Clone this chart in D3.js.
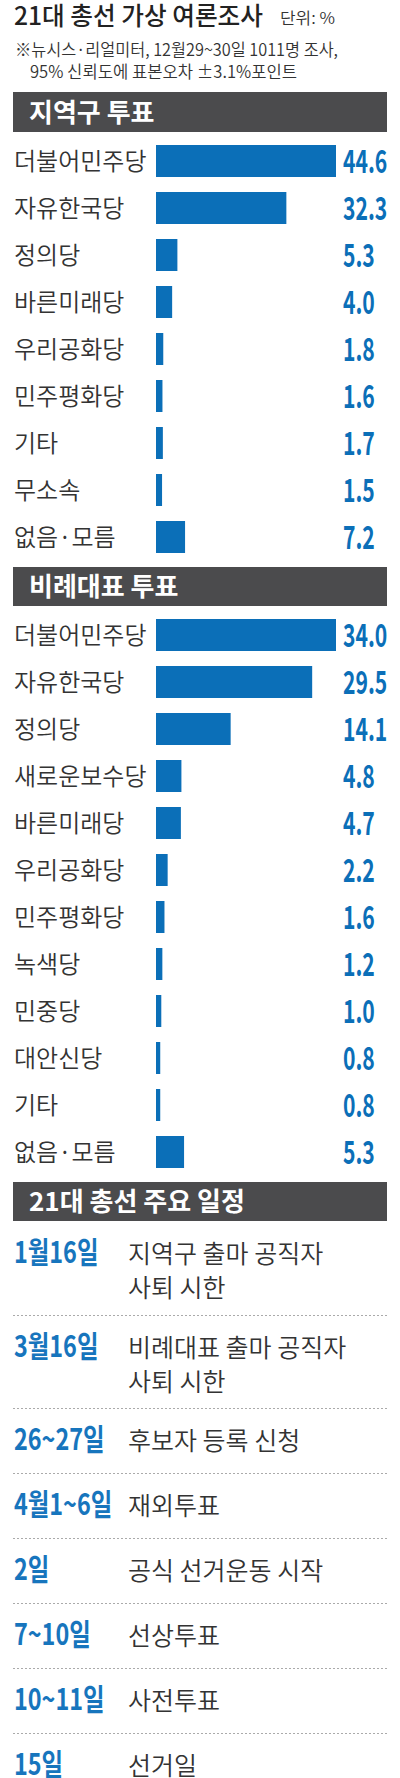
<!DOCTYPE html>
<html>
<head>
<meta charset="utf-8">
<script src="https://cdn.jsdelivr.net/npm/d3@7"></script>
<style>
  html, body { margin: 0; padding: 0; background: #fff; }
  svg { display: block; }
</style>
</head>
<body>
<div id="chart"></div>
<script>
// ---- data ----
const title = "21대 총선 가상 여론조사";
const unitLabel = "단위: %";
const noteLines = ["※뉴시스·리얼미터, 12월29~30일 1011명 조사,", "95% 신뢰도에 표본오차 ±3.1%포인트"];

const districtTitle = "지역구 투표";
const districtParties = ["더불어민주당", "자유한국당", "정의당", "바른미래당", "우리공화당", "민주평화당", "기타", "무소속", "없음·모름"];
const districtValues = [44.6, 32.3, 5.3, 4.0, 1.8, 1.6, 1.7, 1.5, 7.2];

const prTitle = "비례대표 투표";
const prParties = ["더불어민주당", "자유한국당", "정의당", "새로운보수당", "바른미래당", "우리공화당", "민주평화당", "녹색당", "민중당", "대안신당", "기타", "없음·모름"];
const prValues = [34.0, 29.5, 14.1, 4.8, 4.7, 2.2, 1.6, 1.2, 1.0, 0.8, 0.8, 5.3];

const scheduleTitle = "21대 총선 주요 일정";
const scheduleDates = ["1월16일", "3월16일", "26~27일", "4월1~6일", "2일", "7~10일", "10~11일", "15일"];
const scheduleEvents = [
  ["지역구 출마 공직자", "사퇴 시한"],
  ["비례대표 출마 공직자", "사퇴 시한"],
  ["후보자 등록 신청"],
  ["재외투표"],
  ["공식 선거운동 시작"],
  ["선상투표"],
  ["사전투표"],
  ["선거일"]
];

// ---- style ----
const W = 400, H = 1778;
const KR = "'Noto Sans CJK KR', 'Noto Sans', sans-serif";
const BLUE = "#0b6fb8";
const DATE_BLUE = "#1775bd";
const HEADER = "#4b4b4d";
const TEXT = "#333";

const svg = d3.select("#chart").append("svg")
  .attr("width", W).attr("height", H)
  .attr("viewBox", `0 0 ${W} ${H}`);

// ---- title block ----
svg.append("text")
  .attr("x", 14).attr("y", 25)
  .attr("font-family", KR).attr("font-size", 25).attr("font-weight", 500)
  .attr("fill", "#222")
  .attr("textLength", 249).attr("lengthAdjust", "spacingAndGlyphs")
  .text(title);
svg.append("text")
  .attr("x", 280).attr("y", 24)
  .attr("font-family", KR).attr("font-size", 16).attr("font-weight", 350)
  .attr("fill", "#333")
  .attr("textLength", 55).attr("lengthAdjust", "spacingAndGlyphs")
  .text(unitLabel);
svg.append("text")
  .attr("x", 15).attr("y", 56)
  .attr("font-family", KR).attr("font-size", 17).attr("font-weight", 350)
  .attr("fill", TEXT)
  .attr("textLength", 323).attr("lengthAdjust", "spacingAndGlyphs")
  .text(noteLines[0]);
svg.append("text")
  .attr("x", 30).attr("y", 78)
  .attr("font-family", KR).attr("font-size", 17).attr("font-weight", 350)
  .attr("fill", TEXT)
  .attr("textLength", 267).attr("lengthAdjust", "spacingAndGlyphs")
  .text(noteLines[1]);

// ---- helpers ----
function header(y, h, label) {
  svg.append("rect")
    .attr("x", 13).attr("y", y).attr("width", 374).attr("height", h)
    .attr("fill", HEADER);
  svg.append("text")
    .attr("x", 29).attr("y", y + h / 2 + 9.5)
    .attr("font-family", KR).attr("font-size", 26).attr("font-weight", 700)
    .attr("fill", "#fff")
    .text(label);
}

const fmt = d3.format(".1f");

function barSection(y0, parties, values, maxVal) {
  const step = 47;
  const y = d3.scaleBand()
    .domain(parties)
    .range([y0, y0 + parties.length * step])
    .paddingInner(15 / 47)
    .paddingOuter(7.5 / 47);
  const x = d3.scaleLinear().domain([0, maxVal]).range([156, 336]);

  const rows = svg.append("g").selectAll("g")
    .data(parties.map((p, i) => ({ p, v: values[i] })))
    .join("g");

  rows.append("text")
    .attr("x", 14)
    .attr("y", d => y(d.p) + y.bandwidth() / 2 + 8.5)
    .attr("font-family", KR).attr("font-size", 24).attr("font-weight", 350)
    .attr("fill", TEXT)
    .text(d => d.p);

  rows.append("rect")
    .attr("x", x(0))
    .attr("y", d => y(d.p))
    .attr("width", d => x(d.v) - x(0))
    .attr("height", y.bandwidth())
    .attr("fill", BLUE);

  rows.append("text")
    .attr("transform", d => `translate(343,${y(d.p) + y.bandwidth() / 2 + 11.5}) scale(0.66,1)`)
    .attr("font-family", KR).attr("font-size", 32).attr("font-weight", 700)
    .attr("fill", BLUE)
    .text(d => fmt(d.v));
}

// ---- section 1 ----
header(92, 40, districtTitle);
barSection(137.5, districtParties, districtValues, d3.max(districtValues));

// ---- section 2 ----
header(567, 39, prTitle);
barSection(611.5, prParties, prValues, d3.max(prValues));

// ---- schedule ----
header(1182, 39, scheduleTitle);
let yy = 1221;
const lineGap = 34;
scheduleDates.forEach((d, i) => {
  const lines = scheduleEvents[i];
  const h = lines.length > 1 ? 93.5 : 65;
  const base = yy + 42;
  svg.append("text")
    .attr("transform", `translate(14,${base}) scale(0.78,1)`)
    .attr("font-family", KR).attr("font-size", 30).attr("font-weight", 700)
    .attr("fill", DATE_BLUE)
    .text(d);
  lines.forEach((ln, j) => {
    svg.append("text")
      .attr("x", 128).attr("y", base + j * lineGap)
      .attr("font-family", KR).attr("font-size", 25).attr("font-weight", 350)
      .attr("fill", TEXT)
      .text(ln);
  });
  yy += h;
  if (i < scheduleDates.length - 1) {
    svg.append("line")
      .attr("x1", 13).attr("x2", 387)
      .attr("y1", Math.round(yy) + 0.5).attr("y2", Math.round(yy) + 0.5)
      .attr("stroke", "#aaa").attr("stroke-width", 1)
      .attr("stroke-dasharray", "2,2");
  }
});
</script>
</body>
</html>
